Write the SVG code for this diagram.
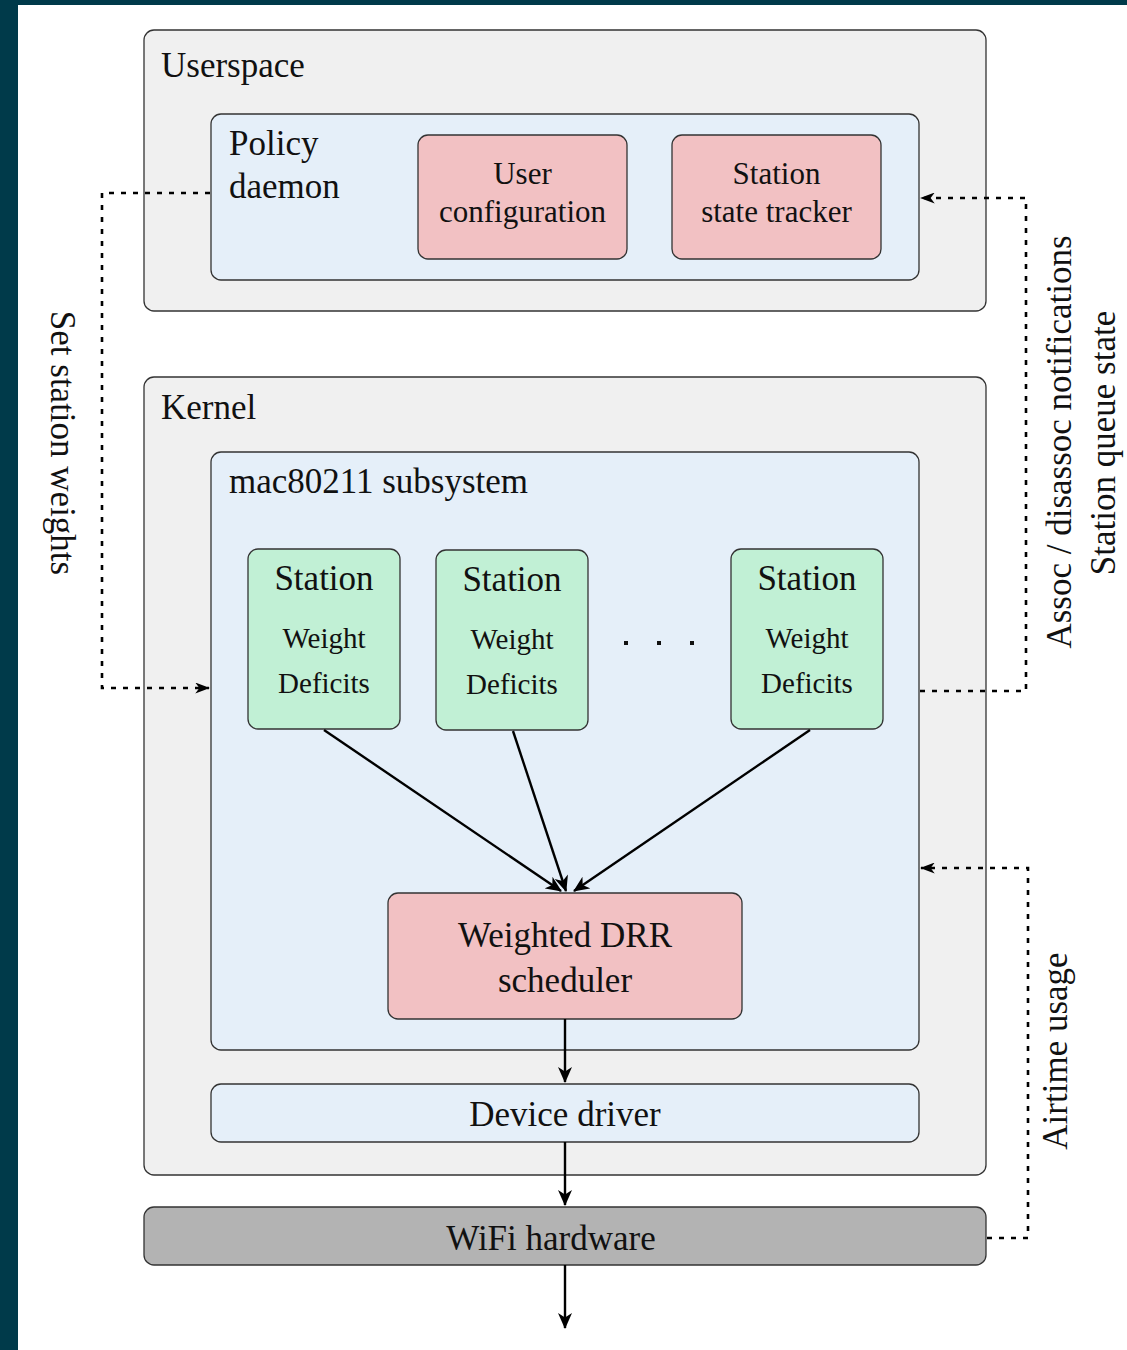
<svg xmlns="http://www.w3.org/2000/svg" width="1127" height="1350" viewBox="0 0 1127 1350">
  <style>
    text { font-family: "Liberation Serif", "DejaVu Serif", serif; fill: #111; }
    .box { stroke: #333; stroke-width: 1.3; }
    .layer { fill: #f0f0f0; }
    .blue { fill: #e5eff9; }
    .pink { fill: #f2c1c3; }
    .green { fill: #c1f0d5; }
    .hw { fill: #b3b3b3; }
    .big { font-size: 35px; }
    .mid { font-size: 31px; }
    .small { font-size: 29px; }
    .solid { fill: none; stroke: #000; stroke-width: 2.4; }
    .dash { fill: none; stroke: #000; stroke-width: 2.6; stroke-dasharray: 5 7; }
  </style>
  <defs>
    <!-- stealth-style arrowheads -->
    <marker id="arrow" viewBox="0 0 16 14" refX="15" refY="7" markerWidth="17" markerHeight="14" markerUnits="userSpaceOnUse" orient="auto">
      <path d="M0,0 L16,7 L0,14 L4.5,7 z" fill="#000"/>
    </marker>
    <marker id="arrowSmall" viewBox="0 0 16 12" refX="15" refY="6" markerWidth="15" markerHeight="11" markerUnits="userSpaceOnUse" orient="auto">
      <path d="M0,0 L16,6 L0,12 L4.5,6 z" fill="#000"/>
    </marker>
  </defs>

  <!-- page frame -->
  <rect x="0" y="0" width="1127" height="1350" fill="#ffffff"/>
  <rect x="0" y="0" width="1127" height="5" fill="#003a4a"/>
  <rect x="0" y="0" width="18" height="1350" fill="#003a4a"/>

  <!-- userspace layer -->
  <g id="userspace">
    <rect class="box layer" x="144" y="30" width="842" height="281" rx="10"/>
    <text class="big" x="161" y="77">Userspace</text>
  </g>
  <g id="policy-daemon">
    <rect class="box blue" x="211" y="114" width="708" height="166" rx="10"/>
    <text class="big" x="229" y="155">Policy</text>
    <text class="big" x="229" y="198">daemon</text>
  </g>
  <g id="user-configuration">
    <rect class="box pink" x="418" y="135" width="209" height="124" rx="10"/>
    <text class="mid" x="522.5" y="184" text-anchor="middle">User</text>
    <text class="mid" x="522.5" y="222" text-anchor="middle">configuration</text>
  </g>
  <g id="station-state-tracker">
    <rect class="box pink" x="672" y="135" width="209" height="124" rx="10"/>
    <text class="mid" x="776.5" y="184" text-anchor="middle">Station</text>
    <text class="mid" x="776.5" y="222" text-anchor="middle">state tracker</text>
  </g>

  <!-- kernel layer -->
  <g id="kernel">
    <rect class="box layer" x="144" y="377" width="842" height="798" rx="10"/>
    <text class="big" x="161" y="419">Kernel</text>
  </g>
  <g id="mac80211">
    <rect class="box blue" x="211" y="452" width="708" height="598" rx="10"/>
    <text class="big" x="229" y="493">mac80211 subsystem</text>
  </g>
  <g id="station-1">
    <rect class="box green" x="248" y="549" width="152" height="180" rx="10"/>
    <text class="big" x="324" y="590" text-anchor="middle">Station</text>
    <text class="small" x="324" y="648" text-anchor="middle">Weight</text>
    <text class="small" x="324" y="693" text-anchor="middle">Deficits</text>
  </g>
  <g id="station-2">
    <rect class="box green" x="436" y="550" width="152" height="180" rx="10"/>
    <text class="big" x="512" y="591" text-anchor="middle">Station</text>
    <text class="small" x="512" y="649" text-anchor="middle">Weight</text>
    <text class="small" x="512" y="694" text-anchor="middle">Deficits</text>
  </g>
  <g id="station-ellipsis">
    <rect x="624" y="641" width="4" height="4" fill="#111"/>
    <rect x="657" y="641" width="4" height="4" fill="#111"/>
    <rect x="690" y="641" width="4" height="4" fill="#111"/>
  </g>
  <g id="station-n">
    <rect class="box green" x="731" y="549" width="152" height="180" rx="10"/>
    <text class="big" x="807" y="590" text-anchor="middle">Station</text>
    <text class="small" x="807" y="648" text-anchor="middle">Weight</text>
    <text class="small" x="807" y="693" text-anchor="middle">Deficits</text>
  </g>
  <g id="drr-scheduler">
    <rect class="box pink" x="388" y="893" width="354" height="126" rx="10"/>
    <text class="big" x="565" y="947" text-anchor="middle">Weighted DRR</text>
    <text class="big" x="565" y="992" text-anchor="middle">scheduler</text>
  </g>
  <g id="device-driver">
    <rect class="box blue" x="211" y="1084" width="708" height="58" rx="10"/>
    <text class="big" x="565" y="1126" text-anchor="middle">Device driver</text>
  </g>
  <g id="wifi-hardware">
    <rect class="box hw" x="144" y="1207" width="842" height="58" rx="10"/>
    <text class="big" x="551" y="1250" text-anchor="middle">WiFi hardware</text>
  </g>

  <!-- connectors -->
  <g id="connectors">
    <path class="solid" d="M324,730 L561,891" marker-end="url(#arrow)"/>
    <path class="solid" d="M513,731 L566,891" marker-end="url(#arrow)"/>
    <path class="solid" d="M810,730 L574,891" marker-end="url(#arrow)"/>
    <path class="solid" d="M565,1019 L565,1082" marker-end="url(#arrow)"/>
    <path class="solid" d="M565,1142 L565,1205" marker-end="url(#arrow)"/>
    <path class="solid" d="M565,1265 L565,1328" marker-end="url(#arrow)"/>

    <path class="dash" d="M210,193 L102,193 L102,688 L209,688" marker-end="url(#arrowSmall)"/>
    <path class="dash" d="M920,691 L1026,691 L1026,198 L921,198" marker-end="url(#arrowSmall)"/>
    <path class="dash" d="M987,1238 L1028,1238 L1028,868 L921,868" marker-end="url(#arrowSmall)"/>

    <text class="big" transform="translate(62,443) rotate(90)" x="0" y="11" text-anchor="middle">Set station weights</text>
    <text class="big" transform="translate(1060,442) rotate(-90)" x="0" y="11" text-anchor="middle">Assoc / disassoc notifications</text>
    <text class="big" transform="translate(1104,443) rotate(-90)" x="0" y="11" text-anchor="middle">Station queue state</text>
    <text class="big" transform="translate(1056,1051) rotate(-90)" x="0" y="11" text-anchor="middle">Airtime usage</text>
  </g>
</svg>
